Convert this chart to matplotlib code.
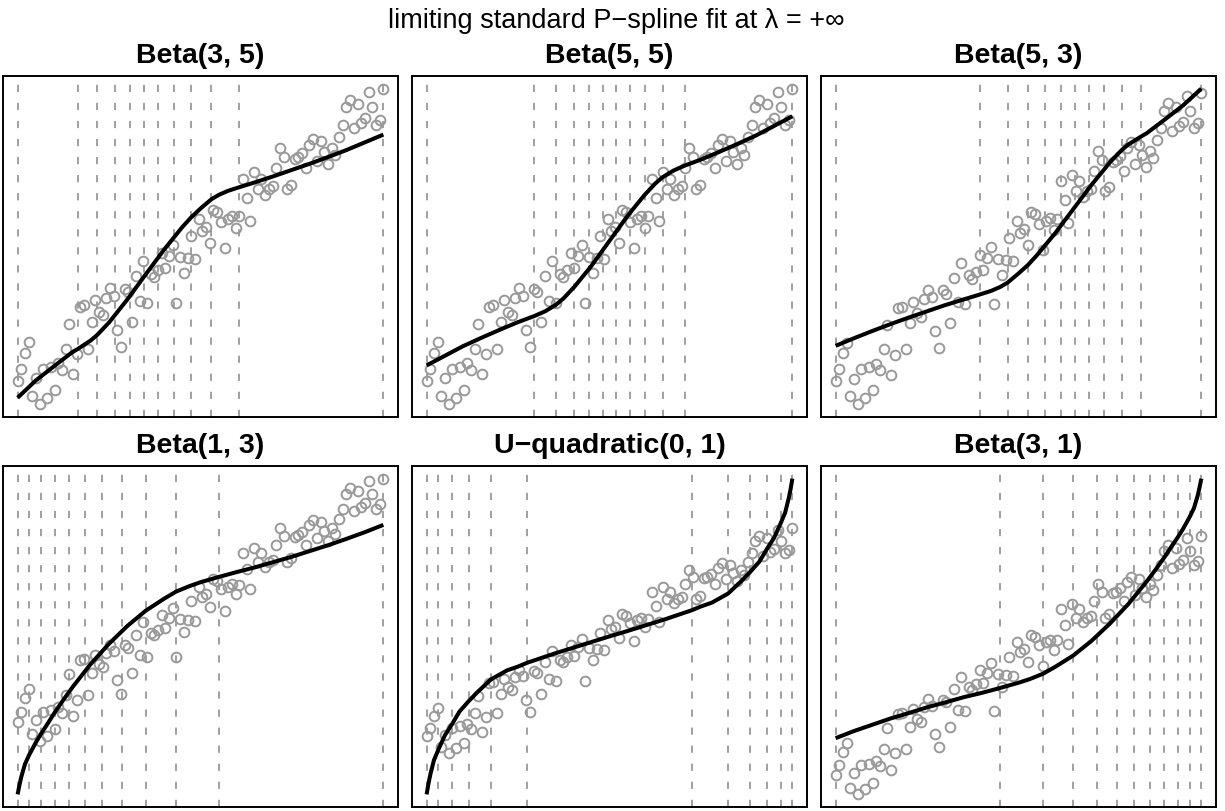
import matplotlib
matplotlib.use("Agg")
import matplotlib.pyplot as plt
import numpy as np

plt.rcParams['font.family'] = ['Liberation Sans', 'DejaVu Sans']

# ---------------------------------------------------------------
# data: 100 points, evenly spaced on [0, 1], same in every panel
# ---------------------------------------------------------------
x_pts = np.linspace(0, 1, 100)
y_pts = [0.70, 1.07, 1.55, 1.88, 0.25, 0.78, 0.00, 1.07, 0.20, 1.13,
         0.43, 1.23, 1.03, 1.67, 2.42, 0.90, 1.50, 2.93, 2.97, 1.67,
         2.47, 3.12, 2.77, 2.67, 3.20, 3.48, 3.25, 2.22, 1.72, 3.47,
         3.37, 2.48, 3.85, 3.10, 4.30, 3.05, 3.92, 3.82, 4.03, 4.55,
         4.08, 4.45, 4.80, 3.05, 4.42, 3.93, 4.38, 5.05, 4.35, 5.58,
         5.22, 5.32, 4.85, 5.85, 5.78, 5.48, 4.70, 5.58, 5.67, 5.30,
         5.65, 6.78, 6.20, 5.50, 6.97, 6.48, 6.78, 6.30, 6.48, 6.55,
         7.10, 7.70, 7.42, 6.48, 6.60, 7.38, 7.43, 7.55, 7.10, 7.80,
         7.98, 7.32, 7.90, 7.58, 7.23, 7.70, 7.48, 8.03, 8.40, 8.92,
         9.15, 8.30, 9.03, 8.45, 8.60, 9.38, 8.92, 8.40, 8.55, 9.48]

titles = ["Beta(3, 5)", "Beta(5, 5)", "Beta(5, 3)",
          "Beta(1, 3)", "U\u2212quadratic(0, 1)", "Beta(3, 1)"]

# knots (dashed lines) for each panel
knots = [
    [0, 0.164, 0.218, 0.266, 0.306, 0.345, 0.385, 0.427, 0.474, 0.530, 0.606, 1],
    [0, 0.294, 0.355, 0.404, 0.443, 0.482, 0.518, 0.557, 0.596, 0.645, 0.706, 1],
    [0, 0.394, 0.470, 0.526, 0.573, 0.615, 0.655, 0.694, 0.734, 0.782, 0.836, 1],
    [0, 0.031, 0.065, 0.101, 0.140, 0.183, 0.231, 0.286, 0.352, 0.433, 0.550, 1],
    [0, 0.032, 0.070, 0.116, 0.176, 0.275, 0.725, 0.824, 0.884, 0.930, 0.968, 1],
    [0, 0.450, 0.567, 0.649, 0.714, 0.769, 0.817, 0.860, 0.899, 0.935, 0.969, 1],
]

# fitted curves
fit_x1 = [0, .05, .1, .15, .164, .2, .218, .25, .266, .3, .35, .4, .45, .474,
          .5, .53, .55, .575, .606, .65, .7, .75, .8, .85, .9, .95, 1]
fit_y1 = [0.20, 0.72, 1.15, 1.57, 1.66, 1.92, 2.09, 2.46, 2.68, 3.15, 3.90,
          4.64, 5.32, 5.61, 5.88, 6.16, 6.29, 6.41, 6.52, 6.67, 6.85, 7.04,
          7.23, 7.43, 7.64, 7.87, 8.10]

fit_x2 = [0, .05, .1, .15, .2, .25, .294, .325, .355, .375, .404, .45, .5,
          .55, .596, .625, .645, .675, .706, .75, .8, .85, .9, .95, 1]
fit_y2 = [1.17, 1.46, 1.75, 2.00, 2.24, 2.47, 2.65, 2.80, 3.00, 3.19, 3.53,
          4.15, 4.91, 5.67, 6.29, 6.63, 6.82, 7.02, 7.17, 7.35, 7.58, 7.82,
          8.07, 8.36, 8.65]

fit_x3 = [0, .05, .1, .15, .2, .25, .3, .35, .394, .425, .45, .47, .5, .526,
          .55, .6, .65, .7, .734, .75, .782, .8, .836, .85, .9, .95, 1]
fit_y3 = [1.78, 2.01, 2.23, 2.44, 2.64, 2.83, 3.02, 3.19, 3.34, 3.45, 3.57,
          3.70, 3.98, 4.24, 4.53, 5.20, 5.94, 6.68, 7.14, 7.36, 7.73, 7.90,
          8.15, 8.24, 8.66, 9.09, 9.60]

fit_x4 = [0, .005, .01, .02, .031, .05, .065, .08, .101, .125, .15, .2, .25,
          .3, .35, .4, .433, .47, .5, .55, .6, .65, .7, .75, .8, .85, .9, .95, 1]
fit_y4 = [-1.92, -1.58, -1.29, -0.83, -0.51, -0.04, 0.29, 0.59, 1.03, 1.49,
          1.95, 2.79, 3.52, 4.16, 4.71, 5.14, 5.40, 5.60, 5.74, 5.93, 6.11,
          6.28, 6.47, 6.66, 6.87, 7.08, 7.31, 7.55, 7.81]

fit_x5 = [0, .005, .01, .02, .032, .05, .07, .09, .116, .14, .176, .22, .25,
          .275, .35, .4, .45, .5, .55, .6, .65, .725, .75, .78, .824, .86,
          .884, .91, .93, .95, .968, .98, .99, .995, 1]
fit_y5 = [-1.74, -1.29, -0.91, -0.30, 0.14, 0.75, 1.23, 1.75, 2.20, 2.58,
          3.10, 3.48, 3.64, 3.80, 4.19, 4.43, 4.67, 4.91, 5.14, 5.38, 5.62,
          6.01, 6.17, 6.33, 6.71, 7.23, 7.61, 8.06, 8.58, 9.06, 9.67, 10.11,
          10.72, 11.10, 11.55]

fit_x6 = [0, .05, .1, .15, .2, .25, .3, .35, .4, .45, .5, .53, .567, .6, .65,
          .7, .75, .8, .85, .875, .899, .92, .935, .95, .969, .98, .99, .995, 1]
fit_y6 = [2.06, 2.32, 2.55, 2.78, 2.98, 3.19, 3.37, 3.56, 3.72, 3.90, 4.09,
          4.22, 4.42, 4.67, 5.09, 5.63, 6.26, 6.97, 7.79, 8.24, 8.69, 9.12,
          9.41, 9.73, 10.19, 10.50, 10.95, 11.25, 11.57]

fits = [(fit_x1, fit_y1), (fit_x2, fit_y2), (fit_x3, fit_y3),
        (fit_x4, fit_y4), (fit_x5, fit_y5), (fit_x6, fit_y6)]

# ---------------------------------------------------------------
# layout (pixel boxes of the six panels)
# ---------------------------------------------------------------
W, H = 1225, 812
lefts = [3, 412, 821]
tops = [77, 467]
pw, ph = 395, 341

fig = plt.figure(figsize=(W / 100, H / 100), dpi=100)
fig.text(0.503, 1 - 21 / H, "limiting standard P\u2212spline fit at \u03bb = +\u221e",
         ha="center", va="center", fontsize=19.5)

for i in range(6):
    r, c = divmod(i, 3)
    ax = fig.add_axes([lefts[c] / W, 1 - (tops[r] + ph) / H, pw / W, ph / H])
    for k in knots[i]:
        ax.axvline(k, color="#999999", lw=1.3, ls=(0, (4, 6)), zorder=1)
    ax.plot(x_pts, y_pts, ls="none", marker="o", ms=7, mfc="none",
            mec="#999999", mew=1.4, zorder=2)
    fx, fy = fits[i]
    ax.plot(fx, fy, color="black", lw=2.9, solid_capstyle="butt", zorder=3)
    ax.margins(x=0.04, y=0.04)
    ax.set_xticks([])
    ax.set_yticks([])
    for s in ax.spines.values():
        s.set_linewidth(1.4)
    ax.text(0.5, 1 + 21 / ph, titles[i], transform=ax.transAxes,
            ha="center", va="center", fontsize=20.5, fontweight="bold")

fig.savefig("out.png", dpi=100)
